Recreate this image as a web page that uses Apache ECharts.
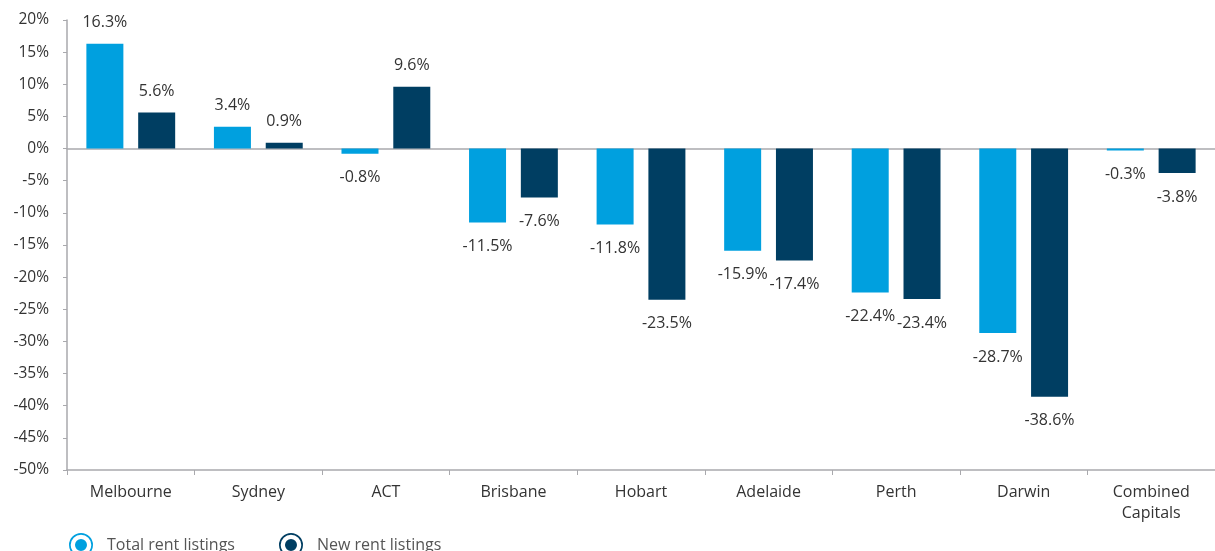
<!DOCTYPE html>
<html>
<head>
<meta charset="utf-8">
<script src="https://cdn.jsdelivr.net/npm/echarts@6/dist/echarts.min.js"></script>
<style>
  html, body { margin: 0; padding: 0; background: #fff; }
  #chart { width: 1215px; height: 551px; }
</style>
</head>
<body>
<div id="chart"></div>
<script>
var cities = ['Melbourne', 'Sydney', 'ACT', 'Brisbane', 'Hobart', 'Adelaide', 'Perth', 'Darwin', 'Combined\nCapitals'];
var totalListings = [16.3, 3.4, -0.8, -11.5, -11.8, -15.9, -22.4, -28.7, -0.3];
var newListings = [5.6, 0.9, 9.6, -7.6, -23.5, -17.4, -23.4, -38.6, -3.8];
var seriesNames = ['Total rent listings', 'New rent listings'];
var colors = ['#00a0df', '#003e62'];

var font = 'Open Sans';
var ringIcon = 'path://M0,-12A12,12 0 1,1 0,12A12,12 0 1,1 0,-12Z' +
    'M0,-10.3A10.3,10.3 0 1,0 0,10.3A10.3,10.3 0 1,0 0,-10.3Z' +
    'M0,-6A6,6 0 1,1 0,6A6,6 0 1,1 0,-6Z';

// negative bars get their label underneath
function toData(values) {
    return values.map(function (v) {
        return {
            value: v,
            label: v < 0 ? { position: 'bottom', distance: 16 } : { position: 'top', distance: 13 }
        };
    });
}

function makeSeries(i, values) {
    return {
        name: seriesNames[i],
        type: 'bar',
        barWidth: 37,
        barGap: '40%',
        itemStyle: { color: colors[i] },
        label: {
            show: true,
            color: '#333',
            fontFamily: font,
            fontSize: 16,
            formatter: function (p) { return p.value.toFixed(1) + '%'; }
        },
        data: toData(values)
    };
}

var chart = echarts.init(document.getElementById('chart'));
chart.setOption({
    animation: false,
    grid: { left: 67, top: 20, width: 1151, height: 450 },
    legend: {
        left: 64,
        top: 528,
        itemWidth: 24,
        itemHeight: 24,
        itemGap: 44,
        icon: ringIcon,
        textStyle: { color: '#555', fontFamily: font, fontSize: 16, padding: [0, 0, 0, 9] },
        data: seriesNames
    },
    xAxis: [{
        type: 'category',
        data: cities,
        axisLine: { onZero: false, lineStyle: { color: '#a9a9ad', width: 1.5 } },
        axisTick: { show: true, length: 5, lineStyle: { color: '#a9a9ad' } },
        axisLabel: { color: '#333', fontFamily: font, fontSize: 16, margin: 12, lineHeight: 21 }
    }, {
        type: 'category',
        data: cities,
        position: 'top',
        axisLine: { onZero: true, lineStyle: { color: '#a9a9ad', width: 1.5 } },
        axisTick: { show: false },
        axisLabel: { show: false }
    }],
    yAxis: {
        type: 'value',
        min: -50,
        max: 20,
        interval: 5,
        axisLine: { show: true, onZero: false, lineStyle: { color: '#a9a9ad', width: 1.5 } },
        axisTick: { show: true, length: 4, lineStyle: { color: '#a9a9ad' } },
        splitLine: { show: false },
        axisLabel: { color: '#333', fontFamily: font, fontSize: 15.5, margin: 18, formatter: '{value}%' }
    },
    series: [makeSeries(0, totalListings), makeSeries(1, newListings)]
});
</script>
</body>
</html>
